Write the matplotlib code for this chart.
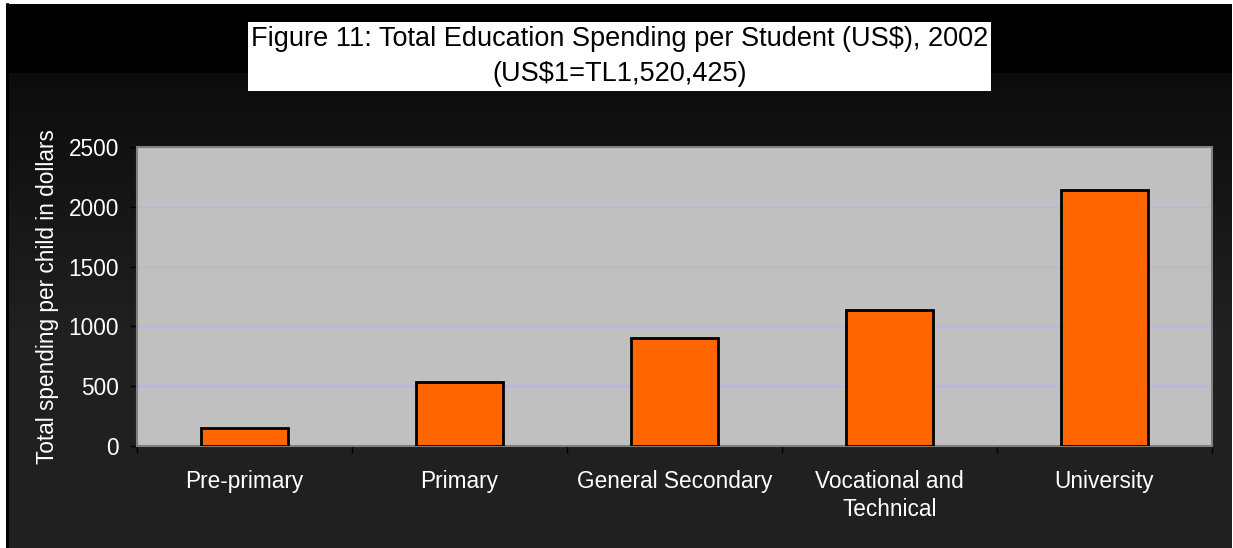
import numpy as np
import matplotlib.pyplot as plt
from matplotlib.colors import LinearSegmentedColormap
from matplotlib.patches import Rectangle

plt.rcParams['font.family'] = ['Liberation Sans', 'DejaVu Sans']

levels = ['Pre-primary', 'Primary', 'General Secondary', 'Vocational and\nTechnical', 'University']
spending = [150, 535, 900, 1140, 2140]
yticks = [0, 500, 1000, 1500, 2000, 2500]

W, H = 1233, 548
fig = plt.figure(figsize=(W / 100, H / 100), dpi=100, facecolor='white')

# backdrop: black header band, then dark grey gradient
bg = fig.add_axes([0, 0, 1, 1], zorder=-5)
bg.set_xlim(0, W)
bg.set_ylim(H, 0)
bg.axis('off')
grad = np.clip((np.arange(73, H) - 73) / 260.0, 0, 1)[:, None]
cmap = LinearSegmentedColormap.from_list('dark', ['#0c0c0c', '#202020'])
bg.imshow(grad, cmap=cmap, aspect='auto', extent=(6, W - 1, H, 73), vmin=0, vmax=1)
bg.add_patch(Rectangle((6, 4), W - 7, 69, color='black', lw=0))
bg.plot([6.5, 6.5], [4, H], color='black', lw=2)

# title box
bg.add_patch(Rectangle((248, 22), 743, 69, facecolor='white', edgecolor='none'))
bg.text(620, 39, 'Figure 11: Total Education Spending per Student (US$), 2002',
        ha='center', va='center', fontsize=19.5, color='black')
bg.text(620, 74, '(US$1=TL1,520,425)', ha='center', va='center', fontsize=19.5, color='black')

ax = fig.add_axes([137 / W, 1 - 446 / H, (1212 - 137) / W, (446 - 147) / H])
ax.set_facecolor('#c0c0c0')
x = np.arange(len(levels))
ax.bar(x, spending, width=0.405, color='#ff6600', edgecolor='black', linewidth=2, zorder=3)

ax.set_xlim(-0.5, len(levels) - 0.5)
ax.set_ylim(0, 2500)
ax.set_yticks(yticks)
ax.yaxis.grid(True, color='#c8a8e8', linewidth=1, zorder=1)
ax.set_axisbelow(True)

ax.set_xticks(x)
ax.set_xticklabels(levels, linespacing=1.25)
ax.set_xticks(np.arange(-0.5, len(levels)), minor=True)
ax.tick_params(axis='x', which='major', length=0, pad=17.5, labelsize=16.3, colors='white')
ax.tick_params(axis='x', which='minor', length=5, width=1, color='black', direction='out')
ax.tick_params(axis='y', length=5, width=1, color='black', pad=8, labelsize=16.3, labelcolor='white')

for s in ax.spines.values():
    s.set_color('#808080')
    s.set_linewidth(1.5)

ax.set_ylabel('Total spending per child in dollars', color='white', fontsize=16.3, labelpad=7)

fig.savefig('out.png', dpi=100, facecolor=fig.get_facecolor())
